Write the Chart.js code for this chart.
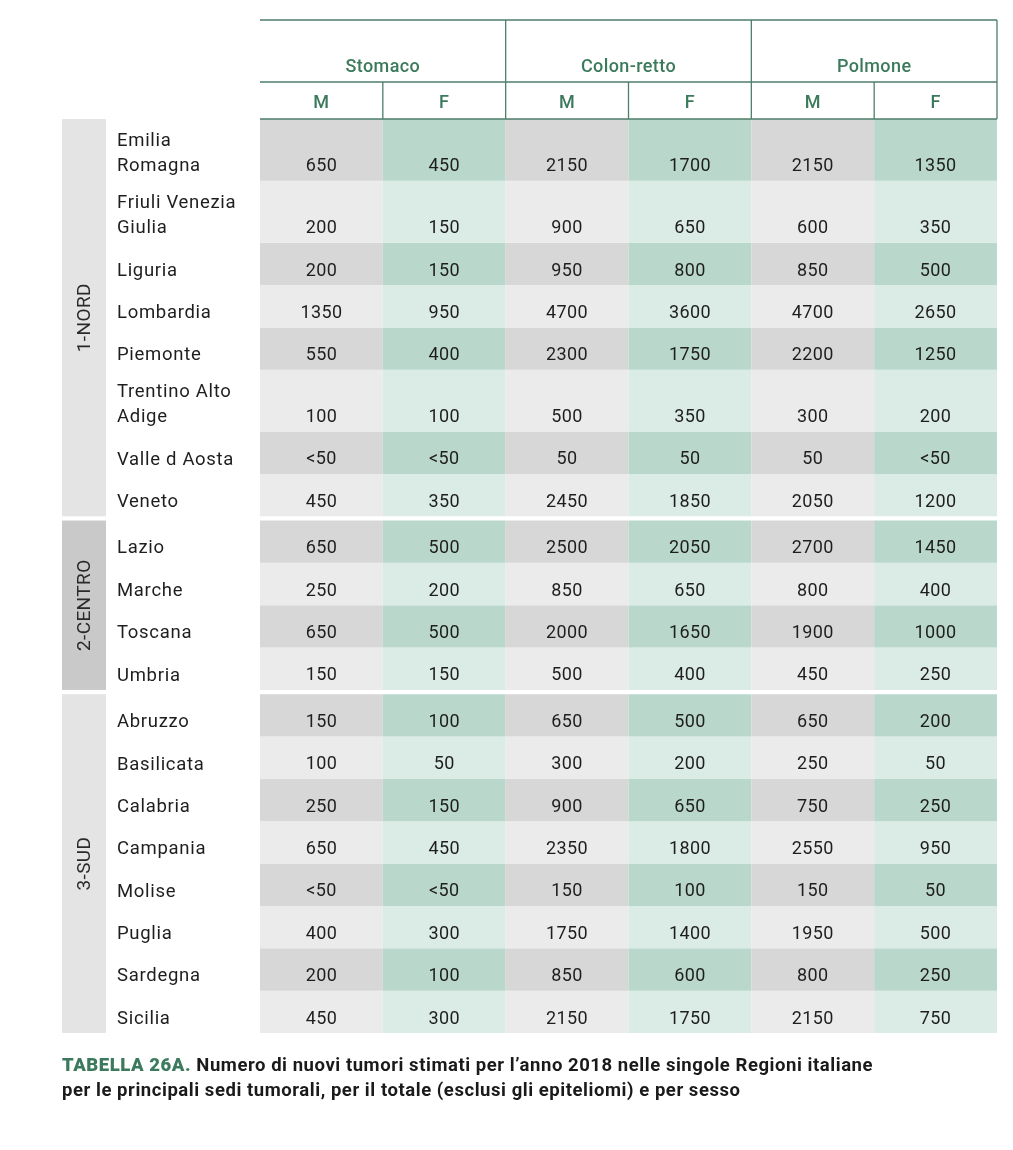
<!DOCTYPE html>
<html>
<head>
<meta charset="utf-8">
<script src="https://cdn.jsdelivr.net/npm/chart.js@4"></script>
<style>
  body { margin: 0; background: #fff; }
  #wrap { position: relative; width: 1013px; height: 1150px; }
  #caption { position: absolute; left: 62px; top: 1053px; font-family: "Roboto", sans-serif; font-weight: bold; font-size: 18.5px; letter-spacing: 0.55px; line-height: 25px; color: #1a1a1a; }
  #caption b { color: #3b7a5c; }
</style>
</head>
<body>
<div id="wrap">
  <canvas id="table" width="1013" height="1150"></canvas>
  <div id="caption"><b>TABELLA 26A.</b> Numero di nuovi tumori stimati per l’anno 2018 nelle singole Regioni italiane<br>per le principali sedi tumorali, per il totale (esclusi gli epiteliomi) e per sesso</div>
</div>
<script>
var sites = ['Stomaco', 'Colon-retto', 'Polmone'];
var sexes = ['M', 'F'];
var groups = ['1-NORD', '2-CENTRO', '3-SUD'];
var groupSizes = [8, 4, 8];
var regions = [['Emilia', 'Romagna'], ['Friuli Venezia', 'Giulia'], 'Liguria', 'Lombardia', 'Piemonte', ['Trentino Alto', 'Adige'], 'Valle d Aosta', 'Veneto',
    'Lazio', 'Marche', 'Toscana', 'Umbria',
    'Abruzzo', 'Basilicata', 'Calabria', 'Campania', 'Molise', 'Puglia', 'Sardegna', 'Sicilia'];

var stomacoM = [650, 200, 200, 1350, 550, 100, '<50', 450, 650, 250, 650, 150, 150, 100, 250, 650, '<50', 400, 200, 450];
var stomacoF = [450, 150, 150, 950, 400, 100, '<50', 350, 500, 200, 500, 150, 100, 50, 150, 450, '<50', 300, 100, 300];
var colonM = [2150, 900, 950, 4700, 2300, 500, 50, 2450, 2500, 850, 2000, 500, 650, 300, 900, 2350, 150, 1750, 850, 2150];
var colonF = [1700, 650, 800, 3600, 1750, 350, 50, 1850, 2050, 650, 1650, 400, 500, 200, 650, 1800, 100, 1400, 600, 1750];
var polmoneM = [2150, 600, 850, 4700, 2200, 300, 50, 2050, 2700, 800, 1900, 450, 650, 250, 750, 2550, 150, 1950, 800, 2150];
var polmoneF = [1350, 350, 500, 2650, 1250, 200, '<50', 1200, 1450, 400, 1000, 250, 200, 50, 250, 950, 50, 500, 250, 750];

var columns = [stomacoM, stomacoF, colonM, colonF, polmoneM, polmoneF];
var columnLabels = [];
sites.forEach(s => sexes.forEach(x => columnLabels.push(s + ' ' + x)));

// colours: [M dark, M light], [F dark, F light]
var palette = [['#d7d7d7', '#ebebeb'], ['#b9d8cb', '#dbebe5']];
var groupColors = ['#e4e4e4', '#c9c9c9', '#e4e4e4'];
var green = '#3b7a5c';
var lineGreen = '#4e7f6b';
var font = 'Roboto, "Noto Sans", sans-serif';

// row extents in row units (two-line rows are taller, small gap between groups)
var rows = [];
var groupSpans = [];
var y = 0, gi = 0, inGroup = 0, gStart = 0;
regions.forEach((r, i) => {
    var h = Array.isArray(r) ? 1.46 : 1;
    rows.push([y, y + h]);
    y += h;
    inGroup++;
    if (inGroup == groupSizes[gi]) {
        groupSpans.push([gStart, y]);
        if (gi < groupSizes.length - 1) y += 0.1;
        gStart = y;
        gi++;
        inGroup = 0;
    }
});

var datasets = regions.map((r, i) => ({
    label: Array.isArray(r) ? r.join(' ') : r,
    data: columns.map(() => rows[i]),
    backgroundColor: columns.map((c, j) => palette[j % 2][i % 2]),
    borderWidth: 0,
    grouped: false,
    barPercentage: 1,
    categoryPercentage: 1,
    inflateAmount: 0
}));

var tablePlugin = {
    id: 'tableText',
    afterDraw(chart) {
        var ctx = chart.ctx;
        var area = chart.chartArea;
        var yScale = chart.scales.y;
        var cells = chart.getDatasetMeta(0).data;
        var colW = cells[0].width;
        var edge = j => cells[0].x - colW / 2 + j * colW;
        ctx.save();

        // header lines
        var top = area.top - 99, mid = area.top - 37;
        ctx.strokeStyle = lineGreen;
        ctx.lineWidth = 1.3;
        ctx.beginPath();
        [top, mid, area.top].forEach(yy => { ctx.moveTo(area.left, yy); ctx.lineTo(area.right, yy); });
        for (var j = 1; j <= columns.length; j++) {
            ctx.moveTo(edge(j), j % 2 == 0 ? top : mid);
            ctx.lineTo(edge(j), area.top);
        }
        ctx.stroke();

        // header text
        ctx.fillStyle = green;
        ctx.textAlign = 'center';
        ctx.textBaseline = 'middle';
        ctx.font = '500 18px ' + font;
        ctx.letterSpacing = '0.4px';
        sites.forEach((s, k) => ctx.fillText(s, edge(k * 2 + 1), top + 47));
        columnLabels.forEach((c, j) => ctx.fillText(sexes[j % 2], cells[j].x, mid + 21));

        // cell values
        ctx.font = '18px ' + font;
        ctx.fillStyle = '#1e1e1e';
        chart.data.datasets.forEach((ds, i) => {
            chart.getDatasetMeta(i).data.forEach((el, j) => {
                var bottom = Math.max(el.y, el.base);
                ctx.fillText(String(columns[j][i]), el.x, bottom - 14);
            });
        });

        // group boxes and region names
        var gx = area.left - 198, gw = 44;
        groupSpans.forEach((g, k) => {
            var y0 = yScale.getPixelForValue(g[0]), y1 = yScale.getPixelForValue(g[1]);
            ctx.fillStyle = groupColors[k];
            ctx.fillRect(gx, y0, gw, y1 - y0);
            ctx.save();
            ctx.translate(gx + gw / 2, (y0 + y1) / 2);
            ctx.rotate(-Math.PI / 2);
            ctx.fillStyle = '#2a2a2a';
            ctx.textAlign = 'center';
            ctx.font = '19px ' + font;
            ctx.fillText(groups[k], 0, 1);
            ctx.restore();
        });
        ctx.textAlign = 'left';
        ctx.fillStyle = '#1e1e1e';
        ctx.font = '18.5px ' + font;
        ctx.letterSpacing = '0.7px';
        regions.forEach((r, i) => {
            var lines = Array.isArray(r) ? r : [r];
            var bottom = yScale.getPixelForValue(rows[i][1]);
            lines.forEach((t, k) => ctx.fillText(t, area.left - 143, bottom - 14 - (lines.length - 1 - k) * 25));
        });
        ctx.restore();
    }
};

new Chart(document.getElementById('table'), {
    type: 'bar',
    data: { labels: columnLabels, datasets: datasets },
    options: {
        responsive: false,
        animation: false,
        layout: { padding: { left: 260, right: 16, top: 119, bottom: 117 } },
        scales: {
            x: { type: 'category', display: false },
            y: { type: 'linear', display: false, reverse: true, min: 0, max: y }
        },
        plugins: { legend: { display: false }, tooltip: { enabled: false } }
    },
    plugins: [tablePlugin]
});
</script>
</body>
</html>
